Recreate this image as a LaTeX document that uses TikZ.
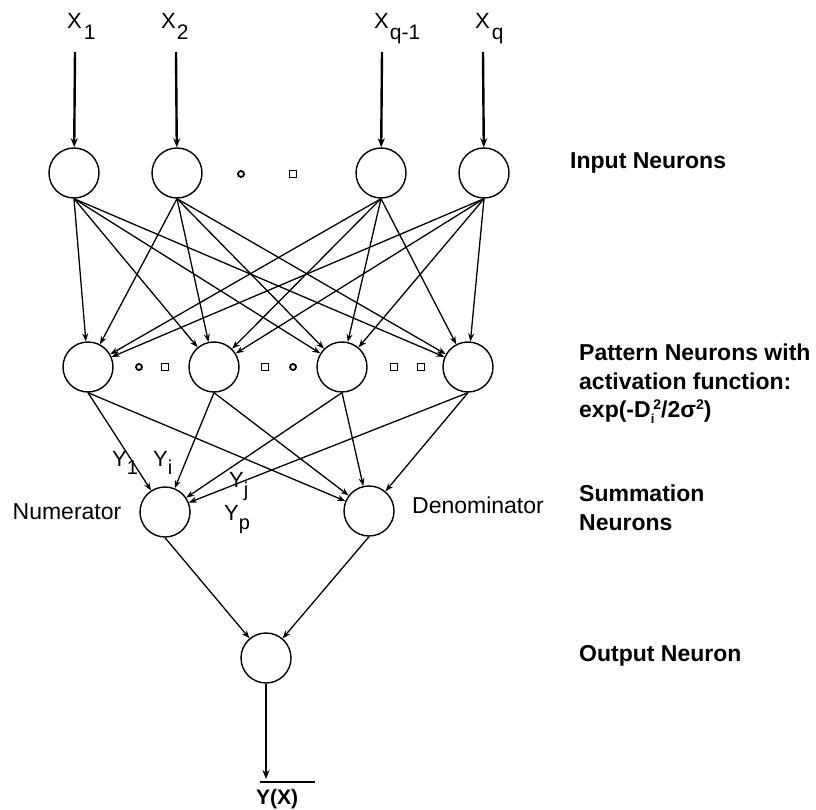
\documentclass[tikz,border=0pt]{standalone}
\usepackage{fontspec}
\setmainfont{Liberation Sans}
\usetikzlibrary{arrows.meta}

% lowered subscript and raised superscript for the labels
\newcommand{\lowsub}[3][9pt]{\raisebox{-#1}{\fontsize{#2}{#2}\selectfont #3}}
\newcommand{\highsup}[1]{\raisebox{8pt}{\fontsize{14}{14}\selectfont #1}}

\begin{document}
\begin{tikzpicture}[x=1pt,y=-1pt,
  neuron/.style={draw, circle, minimum size=50pt, inner sep=0pt, line width=1.4pt},
  link/.style={line width=1.3pt, -{Stealth[length=8pt,width=6pt]}},
  feed/.style={line width=2.4pt, -{Stealth[length=9pt,width=7pt]}},
  lbl/.style={font=\fontsize{23}{26}\selectfont, inner sep=0pt},
  inlbl/.style={font=\fontsize{22}{26}\selectfont, inner sep=0pt, anchor=base west},
  layer/.style={font=\bfseries\fontsize{23}{28.5}\selectfont, anchor=west, align=left, inner sep=0pt},
  dotc/.style={draw, circle, line width=1.8pt, minimum size=6pt, inner sep=0pt},
  dots/.style={draw, rectangle, line width=1.8pt, minimum size=7pt, inner sep=0pt},
]
\useasboundingbox (0,0) rectangle (816,810);

% input layer
\node[neuron] (i1) at (74,173) {};
\node[neuron] (i2) at (177,173) {};
\node[neuron] (i3) at (381,173) {};
\node[neuron] (i4) at (484,173) {};
\node[dotc] (di1) at (241,174) {};
\node[dots] (di2) at (293,174) {};

% input feeds and their labels
\coordinate (t1) at (75,52);
\coordinate (t2) at (176,52);
\coordinate (t3) at (382,52);
\coordinate (t4) at (483,52);
\foreach \k in {1,...,4} \draw[feed] (t\k) -- (i\k);
\node[inlbl] (x1) at (67,29) {X\kern2pt\lowsub[11pt]{21}{1}};
\node[inlbl] (x2) at (161,29) {X\kern1pt\lowsub[11pt]{21}{2}};
\node[inlbl] (x3) at (374,29) {X\kern1pt\lowsub[11pt]{21}{q-1}};
\node[inlbl] (x4) at (475,29) {X\kern2pt\lowsub[11pt]{21}{q}};

% pattern layer
\node[neuron] (p1) at (88,367) {};
\node[neuron] (p2) at (214,367) {};
\node[neuron] (p3) at (342,367) {};
\node[neuron] (p4) at (468,367) {};
\node[dotc] (dp1) at (139,367) {};
\node[dots] (dp2) at (165,367) {};
\node[dots] (dp3) at (265,367) {};
\node[dotc] (dp4) at (293,367) {};
\node[dots] (dp5) at (394,367) {};
\node[dots] (dp6) at (421,367) {};

% every input neuron feeds every pattern neuron
\foreach \a in {1,...,4}
  \foreach \b in {1,...,4}
    \draw[link] (i\a.south) -- (p\b);

% summation layer
\node[neuron] (num) at (165,512) {};
\node[neuron] (den) at (369,511) {};
\foreach \b in {1,...,4} {
  \draw[link] (p\b.south) -- (num);
  \draw[link] (p\b.south) -- (den);
}
\node[lbl] (numl) at (67,512) {Numerator};
\node[lbl] (denl) at (478,505) {Denominator};
\node[inlbl] (y1) at (112,466) {Y\lowsub[8pt]{20}{1}};
\node[inlbl] (yi) at (153,466) {Y\lowsub[8pt]{20}{i}};
\node[inlbl] (yj) at (229,487) {Y\lowsub[9pt]{20}{j}};
\node[inlbl] (yp) at (224,520) {Y\lowsub[9pt]{20}{p}};

% output layer
\node[neuron] (out) at (266,658) {};
\draw[link] (num.south) -- (out);
\draw[link] (den.south) -- (out);
\coordinate (yend) at (266,779);
\draw[feed] (out.south) -- (yend);
\coordinate (bl) at (260,782);
\coordinate (br) at (315,782);
\draw[line width=2.4pt] (bl) -- (br);
\node[lbl, font=\bfseries\fontsize{21}{24}\selectfont] (yx) at (277,799) {Y(X)};

% layer captions
\node[layer] (cin) at (570,163) {Input Neurons};
\node[layer] (cpat) at (579,384) {Pattern Neurons with\\activation function:\\exp(-D\lowsub[6pt]{13}{i}\kern-1pt\highsup{2}/2σ\highsup{2})};
\node[layer] (csum) at (579,508) {Summation\\Neurons};
\node[layer] (cout) at (579,656) {Output Neuron};
\end{tikzpicture}
\end{document}
